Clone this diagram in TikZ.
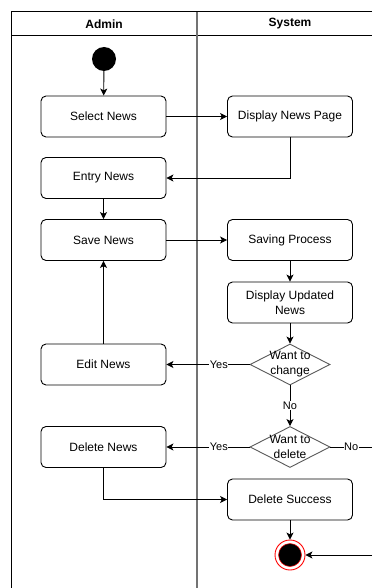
\documentclass[tikz,border=0pt]{standalone}
\usepackage{fontspec}
\setmainfont{Liberation Sans}
\usetikzlibrary{shapes.geometric,arrows.meta}

\tikzset{
  lane/.style={line width=1pt, draw=black},
  divider/.style={line width=1.6pt, draw=black!55},
  actbox/.style={draw=black, line width=0.9pt, rounded corners=5pt,
    minimum width=125pt, minimum height=41pt, inner sep=2pt,
    align=center, font=\fontsize{12}{14}\selectfont},
  decide/.style={diamond, draw=black!65, line width=0.9pt, inner sep=0pt,
    minimum width=80pt, minimum height=41pt},
  decidetext/.style={align=center, font=\fontsize{12}{15}\selectfont, inner sep=0pt},
  flow/.style={line width=0.9pt, -{Stealth[length=7pt,width=7pt,inset=1.8pt]}},
  plainflow/.style={line width=0.9pt},
  guard/.style={fill=white, inner sep=0.5pt, font=\fontsize{11}{12}\selectfont},
  startdot/.style={circle, fill=black, minimum size=24pt, inner sep=0pt},
}

\begin{document}
\begin{tikzpicture}[x=1pt, y=-1pt]
  \useasboundingbox (0,0) rectangle (372,588);
  \fill[white] (0,0) rectangle (372,588);

  % swimlane frame
  \draw[lane] (372,12) -- (11,12) -- (11,588);
  \draw[lane] (11,36) -- (372,36);
  \draw[divider] (197,12) -- (197,588);
  \node[font=\bfseries\fontsize{12}{14}\selectfont] (hadmin) at (104,24) {Admin};
  \node[font=\bfseries\fontsize{12}{14}\selectfont] (hsys) at (290,24) {System};

  % activity nodes
  \node[startdot] (start) at (104,59) {};
  \node[actbox] (select) at (103.5,116.5) {Select News};
  \node[actbox] (display) at (290,116.5) {Display News Page};
  \node[actbox] (entry) at (103.5,178) {Entry News};
  \node[actbox] (save) at (103.5,240) {Save News};
  \node[actbox] (saving) at (290,240) {Saving Process};
  \node[actbox, font=\fontsize{12}{15}\selectfont] (updated) at (290,302.5) {Display Updated\\News};
  \node[actbox] (edit) at (103.5,364.5) {Edit News};
  \node[actbox] (delnews) at (103.5,447) {Delete News};
  \node[actbox] (success) at (290,499.5) {Delete Success};

  % decisions
  \node[decide] (chg) at (290,364.5) {};
  \node[decidetext] (chgtext) at (290,364.5) {Want to\\change};
  \node[decide] (del) at (290,447) {};
  \node[decidetext] (deltext) at (290,447) {Want to\\delete};

  % final node
  \node[circle, draw=red, line width=0.9pt, fill=white, minimum size=30pt, inner sep=0pt] (final) at (290,555) {};
  \node[circle, draw=red, line width=0.5pt, fill=black, minimum size=23pt, inner sep=0pt] (finalcore) at (290,555) {};

  \coordinate (offdel) at (372,447);
  \coordinate (offfin) at (372,555);

  % control flow
  \draw[flow] (start) -- (select);
  \draw[flow] (select) -- (display);
  \draw[flow] (display.south) |- (entry.east);
  \draw[flow] (entry) -- (save);
  \draw[flow] (save) -- (saving);
  \draw[flow] (saving) -- (updated);
  \draw[flow] (updated) -- (chg.north);
  \draw[flow] (chg.west) -- node[guard, pos=0.37] {Yes} (edit.east);
  \draw[flow] (edit) -- (save);
  \draw[flow] (chg.south) -- node[guard] {No} (del.north);
  \draw[flow] (del.west) -- node[guard, pos=0.37] {Yes} (delnews.east);
  \draw[plainflow] (del.east) -- node[guard] {No} (offdel);
  \draw[flow] (delnews.south) |- (success.west);
  \draw[flow] (success) -- (final);
  \draw[flow] (offfin) -- (final);
\end{tikzpicture}
\end{document}
